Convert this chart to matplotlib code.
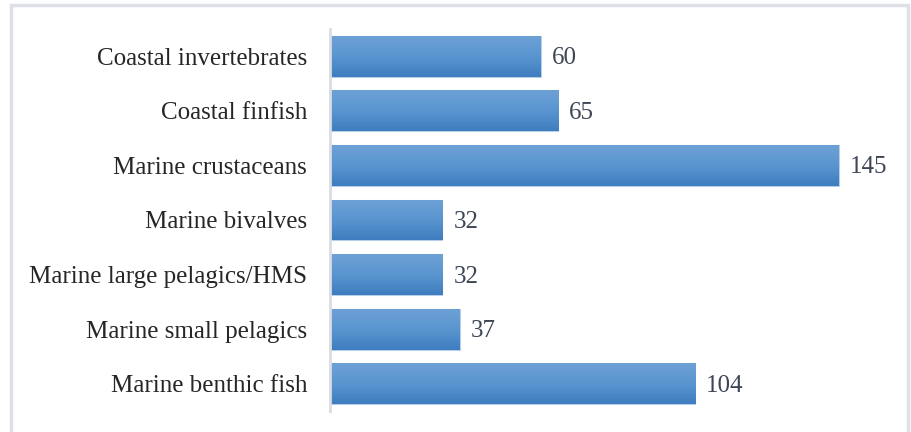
import numpy as np
import matplotlib.pyplot as plt
from matplotlib.patches import Rectangle
from matplotlib.colors import LinearSegmentedColormap

categories = ['Coastal invertebrates', 'Coastal finfish', 'Marine crustaceans',
              'Marine bivalves', 'Marine large pelagics/HMS', 'Marine small pelagics',
              'Marine benthic fish']
values = [60, 65, 145, 32, 32, 37, 104]

plt.rcParams['font.family'] = ['Liberation Serif', 'DejaVu Serif']

W, H = 912, 432
fig = plt.figure(figsize=(W / 100, H / 100), dpi=100)

# light frame around the whole chart
fig.patches.append(Rectangle((11 / W, -0.1), (908 - 11) / W, 1.1 - 5 / H,
                             transform=fig.transFigure, fill=False,
                             edgecolor='#dde0e6', linewidth=2.5))

ax = fig.add_axes([330 / W, 1 - 411 / H, 560 / W, (411 - 29) / H])

y = np.arange(len(categories))
bars = ax.barh(y, values, height=0.75, color='#4f8ccb', edgecolor='#b9cfe8', linewidth=0.8)

# vertical gradient, lighter at top of each bar
grad = np.linspace(0, 1, 100).reshape(-1, 1)
cmap = LinearSegmentedColormap.from_list('bar', ['#6da1d6', '#5a95d0', '#3e7dbf'])
for b in bars:
    x0, y0 = b.get_x(), b.get_y()
    im = ax.imshow(grad, cmap=cmap, aspect='auto', origin='upper',
                   extent=[x0, x0 + b.get_width(), y0 + b.get_height(), y0], zorder=2)
    im.set_clip_path(b)

for yi, v in zip(y, values):
    ax.annotate(str(v), (v, yi), xytext=(11, -2), textcoords='offset pixels',
                va='center', ha='left', fontsize=18, color='#3e4656')

ax.set_xlim(0, 560 / 3.51)
ax.set_ylim(len(categories) - 0.5, -0.5)
ax.set_yticks(y)
ax.set_yticklabels(categories, fontsize=18, color='#262626')
ax.tick_params(axis='y', length=0, pad=16.5)
ax.set_xticks([])
for s in ['top', 'right', 'bottom']:
    ax.spines[s].set_visible(False)
ax.spines['left'].set_color('#d9dce2')
ax.spines['left'].set_linewidth(2)

fig.savefig('out.png', dpi=100)
